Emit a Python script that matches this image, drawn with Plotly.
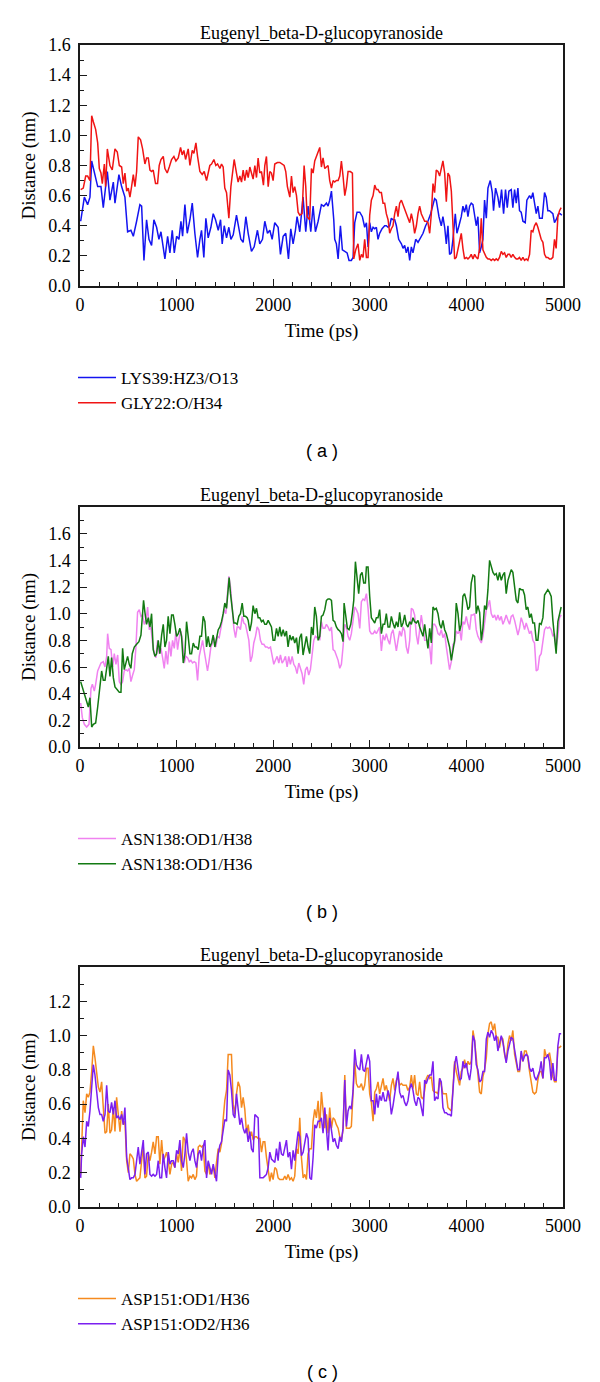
import plotly.graph_objects as go

# ------------------------------------------------------------------ data
# common sampling times (ps) of the right halves of the traces
t_right = [
    2482, 2499, 2516, 2534, 2551, 2568, 2585, 2603, 2620, 2637,
    2654, 2672, 2689, 2706, 2723, 2741, 2758, 2775, 2792, 2809,
    2827, 2844, 2861, 2878, 2896, 2913, 2930, 2947, 2965, 2982,
    2999, 3016, 3034, 3051, 3068, 3085, 3102, 3120, 3137, 3154,
    3171, 3189, 3206, 3223, 3240, 3258, 3275, 3292, 3309, 3327,
    3344, 3361, 3378, 3395, 3413, 3430, 3447, 3464, 3482, 3499,
    3516, 3533, 3551, 3568, 3585, 3602, 3620, 3637, 3654, 3671,
    3688, 3706, 3723, 3740, 3757, 3775, 3792, 3809, 3826, 3844,
    3861, 3878, 3895, 3913, 3930, 3947, 3964, 3981, 3999, 4016,
    4033, 4050, 4068, 4085, 4102, 4119, 4137, 4154, 4171, 4188,
    4206, 4223, 4240, 4257, 4275, 4292, 4309, 4326, 4343, 4361,
    4378, 4395, 4412, 4430, 4447, 4464, 4481, 4499, 4516, 4533,
    4550, 4567, 4585, 4602, 4619, 4636, 4654, 4671, 4688, 4705,
    4723, 4740, 4757, 4774, 4792, 4809, 4826, 4843, 4860, 4878,
    4895, 4912, 4929, 4947, 4964, 4981]

# ---- panel (a)
lys39_t = [
    7, 45, 79, 103, 121, 148, 183, 217, 241, 283,
    310, 345, 362, 403, 431, 465, 493, 527, 552, 586,
    620, 638, 662, 689, 714, 741, 765, 793, 817, 838,
    855, 879, 907, 931, 955, 976, 1000, 1024, 1045, 1062,
    1086, 1110, 1138, 1162, 1189, 1217, 1241, 1258, 1282, 1303,
    1327, 1355, 1379, 1403, 1431, 1455, 1472, 1493, 1517, 1541,
    1562, 1586, 1620, 1644, 1665, 1689, 1717, 1741, 1775, 1803,
    1837, 1861, 1889, 1913, 1941, 1965, 1989, 2016, 2051, 2075,
    2103, 2130, 2158, 2182, 2206, 2230, 2247, 2275, 2309, 2337,
    2361, 2389, 2413, 2437, 2465,
    2499, 2523, 2551, 2568, 2585, 2603, 2627, 2637, 2654, 2672,
    2696, 2716, 2741, 2765, 2785, 2809, 2827, 2844, 2868, 2896,
    2923, 2947, 2965, 2982, 2999, 3016, 3034, 3051, 3068, 3085,
    3102, 3127, 3154, 3171, 3189, 3206, 3223, 3240, 3258, 3275,
    3299, 3327, 3344, 3361, 3378, 3395, 3413, 3430, 3447, 3475,
    3499, 3516, 3551, 3578, 3602, 3630, 3654, 3671, 3688, 3716,
    3740, 3757, 3775, 3792, 3809, 3826, 3844, 3861, 3885, 3902,
    3923, 3947, 3964, 3981, 3999, 4016, 4033, 4050, 4068, 4085,
    4102, 4119, 4137, 4154, 4171, 4188, 4206, 4223, 4247, 4268,
    4281, 4302, 4326, 4343, 4364, 4385, 4405, 4423, 4440, 4464,
    4481, 4499, 4516, 4533, 4550, 4567, 4585, 4609, 4626, 4654,
    4671, 4688, 4705, 4723, 4740, 4757, 4785, 4809, 4826, 4843,
    4860, 4878, 4895, 4912, 4929, 4954, 4971, 4988]
lys39_v = [
    0.43, 0.59, 0.54, 0.59, 0.83, 0.76, 0.66, 0.66, 0.52, 0.76,
    0.57, 0.69, 0.55, 0.74, 0.66, 0.59, 0.36, 0.37, 0.33, 0.43,
    0.54, 0.53, 0.17, 0.44, 0.31, 0.27, 0.44, 0.39, 0.31, 0.36,
    0.28, 0.18, 0.33, 0.22, 0.37, 0.22, 0.33, 0.31, 0.43, 0.33,
    0.54, 0.35, 0.44, 0.55, 0.35, 0.19, 0.31, 0.37, 0.19, 0.45,
    0.32, 0.39, 0.48, 0.44, 0.37, 0.44, 0.28, 0.40, 0.32, 0.39,
    0.31, 0.34, 0.47, 0.39, 0.31, 0.29, 0.46, 0.35, 0.23, 0.26,
    0.37, 0.28, 0.31, 0.43, 0.35, 0.37, 0.31, 0.42, 0.39, 0.21,
    0.33, 0.35, 0.18, 0.38, 0.28, 0.37, 0.46, 0.36, 0.59, 0.36,
    0.53, 0.36, 0.53, 0.36, 0.43,
    0.54, 0.53, 0.55, 0.53, 0.57, 0.63, 0.44, 0.31, 0.28, 0.18,
    0.40, 0.24, 0.23, 0.22, 0.17, 0.17, 0.19, 0.42, 0.49, 0.49,
    0.46, 0.39, 0.42, 0.26, 0.42, 0.36, 0.39, 0.38, 0.39, 0.31,
    0.35, 0.38, 0.40, 0.40, 0.39, 0.40, 0.45, 0.44, 0.44, 0.40,
    0.31, 0.28, 0.25, 0.27, 0.22, 0.26, 0.17, 0.26, 0.22, 0.31,
    0.29, 0.31, 0.35, 0.40, 0.43, 0.48, 0.55, 0.58, 0.57, 0.46,
    0.40, 0.46, 0.39, 0.28, 0.40, 0.21, 0.22, 0.31, 0.48, 0.35,
    0.40, 0.46, 0.53, 0.49, 0.54, 0.46, 0.53, 0.55, 0.54, 0.46,
    0.40, 0.46, 0.22, 0.26, 0.31, 0.57, 0.45, 0.65, 0.70, 0.62,
    0.50, 0.65, 0.59, 0.52, 0.64, 0.48, 0.64, 0.52, 0.63, 0.64,
    0.52, 0.64, 0.55, 0.65, 0.50, 0.49, 0.43, 0.42, 0.57, 0.60,
    0.58, 0.62, 0.55, 0.48, 0.53, 0.45, 0.45, 0.62, 0.59, 0.50,
    0.50, 0.49, 0.48, 0.42, 0.44, 0.48, 0.48, 0.47]

gly22_t = [
    7, 34, 59, 79, 103, 121, 138, 162, 183, 200,
    217, 231, 252, 265, 283, 310, 334, 362, 386, 407,
    431, 448, 465, 483, 500, 517, 534, 552, 569, 586,
    603, 627, 648, 672, 689, 707, 724, 741, 758, 782,
    803, 820, 838, 862, 879, 903, 924, 948, 972, 993,
    1017, 1041, 1058, 1075, 1093, 1120, 1138, 1162, 1179, 1200,
    1217, 1241, 1265, 1286, 1310, 1327, 1344, 1362, 1386, 1406,
    1424, 1448, 1465, 1482, 1499, 1517, 1527, 1541, 1562, 1579,
    1596, 1620, 1637, 1655, 1672, 1689, 1706, 1724, 1741, 1758,
    1775, 1792, 1810, 1827, 1844, 1861, 1879, 1899, 1913, 1930,
    1948, 1965, 1982, 1999, 2016, 2044, 2068, 2092, 2113, 2130,
    2147, 2172, 2189, 2206, 2223, 2241, 2258, 2275, 2299, 2320,
    2337, 2351, 2368, 2378, 2396, 2413, 2430, 2447, 2465,
    2482, 2499, 2516, 2534, 2551, 2568, 2585, 2603, 2620, 2637,
    2654, 2672, 2689, 2706, 2723, 2741, 2758, 2775, 2799, 2820,
    2834, 2854, 2878, 2896, 2913, 2930, 2947, 2965, 2982, 2999,
    3016, 3034, 3051, 3068, 3085, 3102, 3120, 3137, 3154, 3171,
    3189, 3206, 3223, 3240, 3258, 3275, 3292, 3309, 3327, 3344,
    3361, 3378, 3395, 3413, 3430, 3447, 3464, 3482, 3499, 3516,
    3533, 3551, 3568, 3585, 3602, 3620, 3637, 3654, 3671, 3688,
    3706, 3723, 3740, 3757, 3775, 3792, 3809, 3826, 3844, 3861,
    3878, 3895, 3913, 3930, 3947, 3964, 3981, 3999, 4016, 4033,
    4050, 4068, 4085, 4102, 4119, 4137, 4154, 4171, 4188, 4206,
    4223, 4240, 4257, 4275, 4292, 4309, 4326, 4343, 4361, 4378,
    4395, 4412, 4430, 4447, 4464, 4481, 4499, 4516, 4533, 4550,
    4567, 4585, 4602, 4619, 4636, 4654, 4671, 4688, 4705, 4723,
    4740, 4757, 4774, 4792, 4809, 4826, 4843, 4860, 4878, 4895,
    4912, 4929, 4947, 4964, 4981]
gly22_v = [
    0.64, 0.65, 0.73, 0.73, 0.70, 1.13, 1.09, 1.04, 0.95, 0.78,
    0.75, 0.68, 0.81, 0.66, 0.91, 0.80, 0.77, 0.91, 0.89, 0.80,
    0.79, 0.68, 0.75, 0.63, 0.65, 0.59, 0.66, 0.74, 0.66, 0.76,
    0.99, 0.97, 0.91, 0.81, 0.85, 0.85, 0.77, 0.76, 0.77, 0.68,
    0.68, 0.80, 0.84, 0.86, 0.78, 0.75, 0.79, 0.84, 0.86, 0.83,
    0.85, 0.92, 0.87, 0.90, 0.84, 0.91, 0.80, 0.90, 0.88, 0.95,
    0.86, 0.76, 0.74, 0.76, 0.70, 0.76, 0.80, 0.81, 0.84, 0.80,
    0.81, 0.78, 0.81, 0.79, 0.65, 0.62, 0.55, 0.45, 0.66, 0.75,
    0.84, 0.75, 0.69, 0.73, 0.69, 0.77, 0.70, 0.77, 0.72, 0.79,
    0.75, 0.71, 0.80, 0.72, 0.85, 0.75, 0.76, 0.67, 0.80, 0.86,
    0.66, 0.76, 0.75, 0.70, 0.81, 0.82, 0.82, 0.81, 0.80, 0.76,
    0.66, 0.59, 0.73, 0.62, 0.66, 0.60, 0.49, 0.47, 0.48, 0.80,
    0.66, 0.46, 0.45, 0.44, 0.78, 0.75, 0.83, 0.86, 0.90,
    0.92, 0.79, 0.85, 0.78, 0.79, 0.80, 0.70, 0.65, 0.70, 0.69,
    0.70, 0.70, 0.73, 0.83, 0.73, 0.60, 0.66, 0.76, 0.76, 0.75,
    0.18, 0.24, 0.28, 0.17, 0.21, 0.19, 0.31, 0.19, 0.19, 0.47,
    0.57, 0.60, 0.67, 0.64, 0.64, 0.62, 0.62, 0.55, 0.55, 0.48,
    0.44, 0.35, 0.38, 0.40, 0.48, 0.53, 0.46, 0.55, 0.57, 0.54,
    0.50, 0.47, 0.44, 0.42, 0.48, 0.43, 0.35, 0.40, 0.48, 0.53,
    0.48, 0.45, 0.43, 0.43, 0.42, 0.35, 0.48, 0.68, 0.62, 0.77,
    0.76, 0.73, 0.78, 0.83, 0.75, 0.56, 0.75, 0.73, 0.63, 0.34,
    0.18, 0.19, 0.25, 0.31, 0.35, 0.25, 0.18, 0.19, 0.18, 0.19,
    0.21, 0.18, 0.21, 0.19, 0.18, 0.25, 0.45, 0.24, 0.21, 0.19,
    0.18, 0.18, 0.17, 0.18, 0.17, 0.18, 0.17, 0.19, 0.23, 0.21,
    0.22, 0.19, 0.21, 0.21, 0.19, 0.21, 0.19, 0.18, 0.18, 0.19,
    0.17, 0.19, 0.17, 0.18, 0.17, 0.21, 0.37, 0.36, 0.40, 0.42,
    0.39, 0.35, 0.31, 0.29, 0.21, 0.19, 0.19, 0.18, 0.18, 0.19,
    0.31, 0.25, 0.46, 0.50, 0.52]

# ---- panel (b)
asn_h36_t = [
    7, 24, 45, 69, 86, 103, 121, 138, 162, 183,
    207, 224, 241, 259, 276, 293, 310, 327, 345, 362,
    386, 407, 424, 441, 458, 476, 493, 510, 527, 541,
    562, 586, 610, 631, 648, 658, 672, 689, 707, 724,
    741, 758, 776, 793, 810, 827, 845, 862, 879, 896,
    913, 931, 948, 965, 982, 1000, 1017, 1034, 1051, 1069,
    1086, 1103, 1120, 1138, 1155, 1172, 1189, 1206, 1224, 1241,
    1258, 1275, 1293, 1310, 1327, 1344, 1362, 1379, 1396, 1413,
    1431, 1448, 1465, 1482, 1499, 1517, 1534, 1544, 1558, 1575,
    1593, 1610, 1627, 1644, 1661, 1679, 1696, 1713, 1730, 1741,
    1758, 1775, 1792, 1810, 1827, 1844, 1861, 1879, 1896, 1913,
    1930, 1948, 1965, 1982, 1999, 2016, 2034, 2051, 2068, 2085,
    2103, 2120, 2137, 2154, 2172, 2189, 2206, 2223, 2241, 2258,
    2275, 2292, 2309, 2327, 2344, 2361, 2378, 2396, 2413, 2430,
    2447, 2465,
    2482, 2499, 2516, 2534, 2551, 2568, 2585, 2603, 2620, 2637,
    2654, 2672, 2689, 2706, 2723, 2734, 2751, 2768, 2785, 2803,
    2820, 2834, 2851, 2868, 2885, 2903, 2920, 2937, 2954, 2965,
    2982, 2999, 3016, 3034, 3051, 3068, 3085, 3102, 3120, 3137,
    3154, 3171, 3189, 3206, 3223, 3240, 3258, 3275, 3292, 3309,
    3327, 3344, 3361, 3378, 3395, 3413, 3430, 3447, 3464, 3482,
    3499, 3516, 3533, 3551, 3568, 3585, 3602, 3620, 3637, 3654,
    3671, 3688, 3706, 3723, 3740, 3757, 3775, 3792, 3809, 3826,
    3844, 3861, 3878, 3895, 3913, 3930, 3947, 3964, 3981, 3999,
    4016, 4033, 4050, 4068, 4085, 4102, 4119, 4137, 4154, 4171,
    4188, 4206, 4223, 4240, 4257, 4275, 4292, 4309, 4326, 4343,
    4361, 4378, 4395, 4412, 4430, 4447, 4464, 4481, 4499, 4516,
    4533, 4550, 4567, 4585, 4602, 4619, 4636, 4654, 4671, 4688,
    4705, 4723, 4740, 4757, 4774, 4792, 4809, 4826, 4843, 4860,
    4878, 4895, 4912, 4929, 4947, 4964, 4981]
asn_h36_v = [
    0.49, 0.45, 0.39, 0.35, 0.30, 0.37, 0.15, 0.17, 0.18, 0.30,
    0.44, 0.57, 0.50, 0.50, 0.59, 0.68, 0.53, 0.67, 0.52, 0.45,
    0.43, 0.41, 0.41, 0.74, 0.58, 0.63, 0.68, 0.62, 0.59, 0.70,
    0.75, 0.77, 0.79, 0.84, 0.99, 1.10, 1.01, 0.92, 0.97, 0.90,
    1.00, 0.73, 0.68, 0.70, 0.80, 0.70, 0.84, 0.92, 0.75, 0.80,
    0.98, 0.85, 0.99, 0.99, 0.92, 0.83, 0.85, 0.89, 0.83, 0.63,
    0.70, 0.94, 0.83, 0.70, 0.70, 0.78, 0.75, 0.75, 0.73, 0.83,
    0.83, 0.98, 0.94, 0.75, 0.83, 0.75, 0.78, 0.84, 0.75, 0.82,
    0.88, 0.90, 0.94, 1.00, 1.08, 1.04, 1.19, 1.27, 1.15, 1.03,
    0.93, 0.93, 0.92, 0.98, 1.00, 1.08, 0.98, 0.98, 0.97, 0.95,
    0.87, 0.93, 1.06, 1.00, 1.04, 0.97, 0.97, 0.94, 0.95, 0.92,
    0.92, 0.95, 0.93, 0.90, 0.80, 0.80, 0.89, 0.83, 0.90, 0.83,
    0.88, 0.83, 0.87, 0.75, 0.84, 0.80, 0.83, 0.78, 0.82, 0.70,
    0.82, 0.85, 0.69, 0.78, 0.83, 0.75, 0.70, 0.90, 0.84, 1.05,
    0.98, 0.80,
    0.83, 0.98, 0.99, 1.03, 1.10, 1.11, 1.11, 1.10, 0.95, 0.94,
    0.90, 0.88, 0.87, 0.85, 0.79, 1.08, 1.00, 0.89, 0.88, 0.92,
    1.01, 1.10, 1.39, 1.28, 1.15, 1.29, 1.31, 1.23, 1.23, 1.35,
    1.35, 1.13, 0.97, 0.95, 0.93, 0.97, 0.97, 1.03, 0.85, 0.92,
    0.92, 1.00, 0.90, 0.90, 0.98, 0.93, 0.89, 0.94, 0.90, 1.01,
    0.90, 0.93, 0.99, 0.92, 0.90, 0.94, 0.92, 0.97, 0.94, 0.93,
    0.95, 0.90, 0.87, 0.83, 0.92, 0.83, 0.74, 0.89, 0.78, 1.05,
    1.03, 1.04, 1.00, 0.92, 0.89, 0.95, 0.88, 0.85, 0.80, 0.75,
    0.65, 0.73, 0.80, 1.08, 1.00, 0.87, 0.92, 1.13, 1.15, 1.10,
    1.03, 1.05, 1.23, 1.29, 1.28, 1.00, 1.06, 1.01, 0.80, 0.89,
    1.06, 1.03, 1.18, 1.40, 1.36, 1.31, 1.29, 1.30, 1.25, 1.31,
    1.25, 1.29, 1.31, 1.15, 1.25, 1.30, 1.33, 1.31, 1.20, 1.10,
    1.08, 1.19, 1.18, 1.18, 1.14, 1.03, 1.05, 0.97, 1.00, 0.93,
    0.93, 0.80, 0.80, 0.93, 0.92, 0.97, 1.14, 1.16, 1.18, 1.16,
    1.13, 0.95, 0.84, 0.70, 0.94, 1.00, 1.05]

asn_h38_t_left = [
    7, 24, 45, 69, 93, 114, 128, 148, 162, 183,
    200, 217, 241, 259, 276, 286, 303, 321, 338, 355,
    372, 390, 407, 424, 441, 458, 476, 493, 510, 527,
    545, 562, 579, 596, 614, 631, 648, 665, 683, 700,
    717, 734, 751, 769, 786, 803, 820, 838, 855, 872,
    889, 907, 924, 941, 958, 976, 993, 1010, 1027, 1044,
    1062, 1079, 1096, 1113, 1131, 1148, 1165, 1182, 1200, 1217,
    1234, 1251, 1269, 1286, 1303, 1320, 1337, 1355, 1372, 1389,
    1406, 1424, 1441, 1458, 1475, 1493, 1510, 1527, 1541, 1558,
    1575, 1593, 1610, 1627, 1644, 1661, 1679, 1696, 1713, 1730,
    1748, 1765, 1782, 1799, 1817, 1834, 1851, 1868, 1885, 1903,
    1920, 1937, 1954, 1972, 1989, 2006, 2023, 2041, 2058, 2075,
    2092, 2110, 2127, 2144, 2161, 2178, 2196, 2213, 2230, 2247,
    2265, 2282, 2299, 2316, 2334, 2351, 2368, 2385, 2403, 2420,
    2437, 2454, 2472]
asn_h38_v = [
    0.33, 0.22, 0.17, 0.15, 0.17, 0.44, 0.47, 0.42, 0.47, 0.57,
    0.60, 0.63, 0.64, 0.60, 0.68, 0.85, 0.74, 0.73, 0.60, 0.70,
    0.62, 0.69, 0.49, 0.47, 0.49, 0.57, 0.58, 0.57, 0.59, 0.49,
    0.54, 0.58, 0.75, 1.01, 1.03, 0.98, 0.99, 0.92, 0.95, 1.05,
    0.88, 0.90, 0.78, 0.70, 0.67, 0.80, 0.70, 0.74, 0.67, 0.59,
    0.72, 0.62, 0.79, 0.68, 0.80, 0.74, 0.87, 0.73, 0.82, 0.87,
    0.79, 0.63, 0.68, 0.67, 0.64, 0.65, 0.63, 0.64, 0.63, 0.50,
    0.68, 0.74, 0.80, 0.72, 0.63, 0.57, 0.65, 0.75, 0.78, 0.82,
    0.75, 0.83, 0.82, 0.89, 0.93, 1.03, 1.00, 1.13, 1.28, 1.20,
    1.05, 0.89, 0.82, 0.90, 0.90, 0.88, 0.98, 0.93, 0.92, 0.85,
    0.80, 0.64, 0.68, 0.78, 0.83, 0.90, 0.88, 0.80, 0.77, 0.77,
    0.75, 0.75, 0.74, 0.75, 0.68, 0.62, 0.65, 0.68, 0.63, 0.69,
    0.63, 0.65, 0.68, 0.60, 0.68, 0.62, 0.68, 0.62, 0.60, 0.55,
    0.63, 0.59, 0.55, 0.47, 0.58, 0.60, 0.54, 0.58, 0.70, 0.80,
    0.83, 0.82, 0.82,
    0.80, 0.94, 0.89, 0.89, 0.92, 0.90, 0.87, 0.90, 0.73, 0.72,
    0.68, 0.65, 0.59, 0.62, 0.75, 0.92, 0.90, 0.83, 0.80, 0.85,
    0.95, 1.05, 1.03, 1.00, 0.89, 1.09, 1.11, 1.10, 1.15, 1.04,
    0.87, 0.85, 0.85, 0.87, 0.85, 0.87, 0.90, 0.72, 0.84, 0.80,
    0.85, 0.80, 0.77, 0.85, 0.88, 0.80, 0.72, 0.80, 0.87, 0.83,
    0.90, 0.87, 0.75, 0.70, 0.80, 1.04, 1.03, 0.99, 0.84, 0.77,
    0.88, 0.99, 0.90, 0.80, 0.80, 0.80, 0.75, 0.62, 0.92, 0.92,
    0.90, 0.85, 0.84, 0.88, 0.82, 0.85, 0.75, 0.68, 0.58, 0.64,
    0.77, 0.78, 0.87, 0.85, 0.88, 0.80, 0.94, 0.92, 0.98, 0.92,
    0.88, 0.99, 0.99, 1.00, 0.88, 0.83, 0.80, 0.78, 0.83, 0.94,
    1.03, 1.06, 1.10, 1.00, 0.97, 0.99, 0.95, 0.99, 0.95, 0.98,
    0.92, 0.95, 0.99, 0.95, 0.92, 0.98, 0.99, 0.95, 0.90, 0.84,
    0.89, 0.97, 0.93, 0.88, 0.93, 0.88, 0.85, 0.87, 0.80, 0.78,
    0.57, 0.58, 0.68, 0.70, 0.80, 0.88, 0.90, 0.89, 0.90, 0.88,
    0.83, 0.85, 0.75, 0.83, 0.97, 0.99]

# ---- panel (c)
t_c_left = [
    7, 17, 34, 52, 69, 86, 103, 121, 138, 155,
    172, 190, 207, 224, 241, 259, 276, 293, 310, 327,
    345, 362, 379, 396, 414, 431, 448, 465, 483, 500,
    517, 534, 552, 569, 586, 603, 620, 638, 655, 672,
    689, 707, 724, 741, 758, 776, 793, 810, 827, 845,
    862, 879, 896, 914, 931, 948, 965, 982, 1000, 1017,
    1034, 1051, 1069, 1086, 1103, 1120, 1138, 1155, 1172, 1189,
    1206, 1224, 1241, 1258, 1275, 1293, 1310, 1327, 1344, 1362,
    1379, 1396, 1413, 1431, 1448, 1465, 1482, 1499, 1517, 1534,
    1551, 1568, 1586, 1603, 1620, 1637, 1655, 1672, 1689, 1706,
    1724, 1741, 1758, 1775, 1793, 1810, 1827, 1844, 1862, 1879,
    1896, 1913, 1930, 1948, 1965, 1982, 1999, 2017, 2034, 2051,
    2068, 2085, 2103, 2120, 2137, 2154, 2172, 2189, 2206, 2223,
    2241, 2258, 2275, 2292, 2310, 2327, 2344, 2361, 2379, 2396,
    2413, 2430, 2447, 2465]
asp_od1_v = [
    0.19, 0.41, 0.62, 0.55, 0.66, 0.64, 0.67, 0.79, 0.94, 0.87,
    0.79, 0.70, 0.67, 0.73, 0.58, 0.43, 0.44, 0.60, 0.43, 0.45,
    0.58, 0.44, 0.64, 0.52, 0.44, 0.56, 0.48, 0.50, 0.27, 0.20,
    0.31, 0.30, 0.28, 0.19, 0.15, 0.16, 0.17, 0.27, 0.35, 0.17,
    0.18, 0.31, 0.27, 0.32, 0.38, 0.31, 0.41, 0.41, 0.25, 0.39,
    0.27, 0.29, 0.32, 0.27, 0.19, 0.25, 0.26, 0.23, 0.31, 0.26,
    0.35, 0.21, 0.41, 0.39, 0.29, 0.15, 0.18, 0.17, 0.19, 0.16,
    0.18, 0.35, 0.36, 0.35, 0.36, 0.21, 0.19, 0.26, 0.19, 0.21,
    0.24, 0.17, 0.26, 0.34, 0.32, 0.37, 0.51, 0.62, 0.68, 0.89,
    0.89, 0.89, 0.60, 0.54, 0.66, 0.73, 0.70, 0.58, 0.64, 0.57,
    0.43, 0.48, 0.40, 0.44, 0.39, 0.41, 0.41, 0.40, 0.40, 0.32,
    0.38, 0.38, 0.29, 0.21, 0.15, 0.20, 0.16, 0.23, 0.22, 0.17,
    0.16, 0.16, 0.16, 0.18, 0.16, 0.19, 0.16, 0.17, 0.15, 0.18,
    0.34, 0.31, 0.52, 0.29, 0.17, 0.19, 0.16, 0.31, 0.34, 0.34,
    0.50, 0.57, 0.52, 0.62,
    0.46, 0.67, 0.55, 0.46, 0.54, 0.43, 0.58, 0.46, 0.52, 0.51,
    0.48, 0.46, 0.41, 0.39, 0.45, 0.77, 0.46, 0.46, 0.46, 0.47,
    0.70, 0.85, 0.72, 0.70, 0.70, 0.72, 0.68, 0.71, 0.81, 0.81,
    0.66, 0.61, 0.50, 0.67, 0.69, 0.73, 0.66, 0.70, 0.75, 0.68,
    0.71, 0.66, 0.62, 0.71, 0.75, 0.68, 0.74, 0.76, 0.71, 0.72,
    0.71, 0.71, 0.71, 0.68, 0.70, 0.77, 0.69, 0.77, 0.66, 0.65,
    0.73, 0.64, 0.63, 0.68, 0.75, 0.77, 0.75, 0.76, 0.68, 0.67,
    0.67, 0.66, 0.75, 0.71, 0.66, 0.66, 0.66, 0.58, 0.57, 0.56,
    0.69, 0.85, 0.79, 0.75, 0.71, 0.79, 0.81, 0.86, 0.81, 0.85,
    0.83, 0.85, 1.03, 0.97, 0.87, 0.77, 0.67, 0.66, 0.76, 0.80,
    0.87, 1.01, 1.07, 1.08, 1.03, 1.07, 0.99, 0.99, 0.93, 0.99,
    0.98, 0.89, 0.85, 0.95, 1.00, 0.97, 1.03, 0.89, 0.83, 0.79,
    0.79, 0.90, 0.85, 0.91, 0.91, 0.87, 0.79, 0.73, 0.67, 0.66,
    0.67, 0.74, 0.79, 0.79, 0.75, 0.92, 0.88, 0.88, 0.90, 0.84,
    0.76, 0.73, 0.73, 0.93, 0.93, 0.94]
asp_od2_v = [
    0.17, 0.31, 0.41, 0.35, 0.50, 0.47, 0.56, 0.70, 0.83, 0.77,
    0.68, 0.58, 0.54, 0.54, 0.50, 0.54, 0.71, 0.56, 0.55, 0.61,
    0.54, 0.62, 0.52, 0.53, 0.51, 0.54, 0.48, 0.58, 0.29, 0.22,
    0.16, 0.17, 0.17, 0.19, 0.28, 0.35, 0.25, 0.34, 0.39, 0.19,
    0.31, 0.32, 0.19, 0.18, 0.19, 0.18, 0.19, 0.27, 0.17, 0.17,
    0.31, 0.23, 0.17, 0.32, 0.25, 0.27, 0.27, 0.23, 0.33, 0.31,
    0.39, 0.27, 0.23, 0.31, 0.43, 0.32, 0.27, 0.32, 0.34, 0.27,
    0.23, 0.31, 0.33, 0.27, 0.35, 0.39, 0.17, 0.27, 0.23, 0.19,
    0.25, 0.19, 0.15, 0.31, 0.36, 0.38, 0.45, 0.51, 0.50, 0.80,
    0.77, 0.68, 0.54, 0.52, 0.66, 0.55, 0.48, 0.52, 0.46, 0.43,
    0.46, 0.38, 0.44, 0.34, 0.32, 0.54, 0.53, 0.52, 0.17, 0.17,
    0.17, 0.18, 0.19, 0.23, 0.32, 0.28, 0.27, 0.26, 0.34, 0.27,
    0.38, 0.31, 0.30, 0.35, 0.39, 0.29, 0.32, 0.22, 0.33, 0.27,
    0.38, 0.44, 0.41, 0.30, 0.32, 0.38, 0.43, 0.40, 0.17, 0.16,
    0.29, 0.48, 0.46, 0.50,
    0.50, 0.52, 0.43, 0.58, 0.46, 0.33, 0.52, 0.43, 0.38, 0.40,
    0.36, 0.34, 0.41, 0.38, 0.46, 0.74, 0.47, 0.56, 0.59, 0.57,
    0.68, 0.92, 0.83, 0.81, 0.80, 0.89, 0.80, 0.79, 0.85, 0.89,
    0.85, 0.62, 0.62, 0.54, 0.66, 0.58, 0.65, 0.62, 0.67, 0.62,
    0.62, 0.68, 0.64, 0.54, 0.59, 0.66, 0.70, 0.79, 0.67, 0.64,
    0.65, 0.61, 0.59, 0.62, 0.69, 0.72, 0.68, 0.62, 0.59, 0.64,
    0.63, 0.58, 0.53, 0.74, 0.72, 0.75, 0.77, 0.77, 0.85, 0.62,
    0.64, 0.63, 0.75, 0.73, 0.58, 0.55, 0.55, 0.54, 0.54, 0.53,
    0.66, 0.83, 0.88, 0.81, 0.74, 0.75, 0.85, 0.81, 0.84, 0.78,
    0.74, 0.81, 1.00, 0.97, 0.83, 0.80, 0.73, 0.74, 0.79, 0.79,
    0.98, 1.02, 0.99, 1.03, 1.01, 0.97, 1.00, 0.91, 0.95, 1.00,
    0.96, 0.89, 0.84, 0.91, 0.95, 0.99, 0.98, 0.91, 0.85, 0.80,
    0.80, 0.91, 0.85, 0.88, 0.89, 0.88, 0.81, 0.79, 0.81, 0.76,
    0.74, 0.76, 0.79, 0.85, 0.75, 0.87, 0.87, 0.89, 0.85, 0.74,
    0.84, 0.74, 0.74, 0.94, 1.01, 1.01]

asn_h38_t = asn_h38_t_left + t_right
asp_t = t_c_left + t_right

# ---- texts / ticks
panel_title = "Eugenyl_beta-D-glucopyranoside"
x_ticks = [0, 1000, 2000, 3000, 4000, 5000]
y_ticks_a = [0.0, 0.2, 0.4, 0.6, 0.8, 1.0, 1.2, 1.4, 1.6]
y_ticks_b = [0.0, 0.2, 0.4, 0.6, 0.8, 1.0, 1.2, 1.4, 1.6]
y_ticks_c = [0.0, 0.2, 0.4, 0.6, 0.8, 1.0, 1.2]
captions = ["( a )", "( b )", "( c )"]

# ------------------------------------------------------------------ layout helpers
# the page body has an 8 px margin, so the figure is placed 8 px in from the
# window's top-left corner; positions below are window pixels.
OFF = 8
W, H = 600 - OFF, 1382 - OFF
SERIF = "Liberation Serif"
PX_L, PX_R = 80, 563
panels = [  # (frame top px, frame bottom px, y max)
    (45, 286, 1.6),
    (507, 747, 1.8),
    (967, 1207, 1.4),
]


def xp(px):
    return (px - OFF) / W


def yp(px):
    return 1 - (px - OFF) / H


fig = go.Figure()

series = [
    (1, "LYS39:HZ3/O13", lys39_t, lys39_v, "#1414f0", "legend"),
    (1, "GLY22:O/H34", gly22_t, gly22_v, "#f01414", "legend"),
    (2, "ASN138:OD1/H38", asn_h38_t, asn_h38_v, "#f082f0", "legend2"),
    (2, "ASN138:OD1/H36", asn_h36_t, asn_h36_v, "#137a13", "legend2"),
    (3, "ASP151:OD1/H36", asp_t, asp_od1_v, "#f58a1f", "legend3"),
    (3, "ASP151:OD2/H36", asp_t, asp_od2_v, "#7b1ff0", "legend3"),
]
for k, name, t, v, col, lg in series:
    sfx = "" if k == 1 else str(k)
    fig.add_trace(go.Scatter(
        x=t, y=v, mode="lines", name=name,
        line=dict(color=col, width=1.5),
        xaxis="x" + sfx, yaxis="y" + sfx, legend=lg,
    ))

axis_common = dict(
    showline=True, linecolor="#1a1a1a", linewidth=1.5, mirror=True,
    ticks="inside", ticklen=7, tickwidth=1.3, tickcolor="#1a1a1a",
    showgrid=False, zeroline=False, automargin=False,
    tickfont=dict(family=SERIF, size=18, color="black"),
)

layout = dict(
    width=W, height=H, margin=dict(l=0, r=0, t=0, b=0, autoexpand=False),
    paper_bgcolor="white", plot_bgcolor="white",
    showlegend=True,
)

ytick_sets = [y_ticks_a, y_ticks_b, y_ticks_c]
annotations = []
for i, (top, bot, ymax) in enumerate(panels):
    sfx = "" if i == 0 else str(i + 1)
    layout["xaxis" + sfx] = dict(
        axis_common, domain=[xp(PX_L), xp(PX_R)], anchor="y" + sfx,
        range=[0, 5000], tickvals=x_ticks, ticklabelstandoff=2,
        minor=dict(ticks="inside", ticklen=4, tickwidth=1.2,
                   tickcolor="#1a1a1a", tick0=0, dtick=200),
        title=dict(text="Time (ps)", font=dict(family=SERIF, size=19, color="black"),
                   standoff=9),
    )
    layout["yaxis" + sfx] = dict(
        axis_common, domain=[yp(bot), yp(top)], anchor="x" + sfx,
        range=[0, ymax], tickvals=ytick_sets[i], tickformat=".1f",
        ticklabelstandoff=4,
        minor=dict(ticks="inside", ticklen=4, tickwidth=1.2,
                   tickcolor="#1a1a1a", tick0=0, dtick=0.1),
        title=dict(text="Distance (nm)", font=dict(family=SERIF, size=19, color="black"),
                   standoff=8),
    )
    annotations.append(dict(
        text=panel_title, x=xp((PX_L + PX_R) / 2), y=yp(top - 12),
        xref="paper", yref="paper", showarrow=False,
        font=dict(family=SERIF, size=18, color="black"),
        xanchor="center", yanchor="middle",
    ))
    annotations.append(dict(
        text=captions[i], x=xp(322), y=yp(bot + 165),
        xref="paper", yref="paper", showarrow=False,
        font=dict(family="Liberation Sans", size=18, color="black"),
        xanchor="center", yanchor="middle",
    ))
    lg = "legend" if i == 0 else "legend" + str(i + 1)
    layout[lg] = dict(
        x=xp(73), y=yp(bot + 74), xanchor="left", yanchor="top",
        bgcolor="rgba(0,0,0,0)", itemwidth=38, tracegroupgap=0,
        font=dict(family=SERIF, size=17, color="black"),
        itemclick=False, itemdoubleclick=False,
    )

layout["annotations"] = annotations
fig.update_layout(**layout)

fig.write_html("out.html")
